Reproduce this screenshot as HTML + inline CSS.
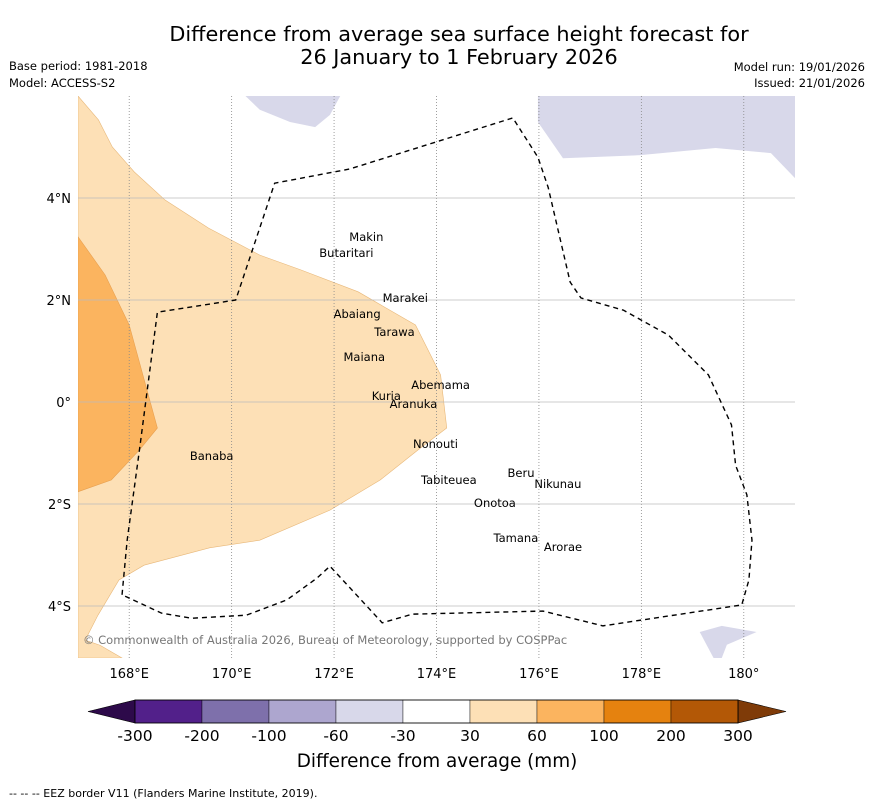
<!DOCTYPE html>
<html><head><meta charset="utf-8"><style>
body{margin:0;background:#fff;font-family:"DejaVu Sans","Liberation Sans",sans-serif;}
svg{display:block}
</style></head><body>
<svg id="chart" width="873" height="804" xmlns="http://www.w3.org/2000/svg" font-family="DejaVu Sans, Liberation Sans, sans-serif">
<text x="459" y="41" font-size="20.8" text-anchor="middle">Difference from average sea surface height forecast for</text>
<text x="459" y="64" font-size="20.8" text-anchor="middle">26 January to 1 February 2026</text>
<text x="9" y="70" font-size="11.5">Base period: 1981-2018</text>
<text x="9" y="87" font-size="11.5">Model: ACCESS-S2</text>
<text x="865" y="71" font-size="11.5" text-anchor="end">Model run: 19/01/2026</text>
<text x="865" y="87" font-size="11.5" text-anchor="end">Issued: 21/01/2026</text>
<g id="map"></g>
<g id="cbar"></g>
<text x="437" y="767" font-size="18.4" text-anchor="middle">Difference from average (mm)</text>
<text x="9" y="797" font-size="11">--  --  -- EEZ border V11 (Flanders Marine Institute, 2019).</text>
</svg>
<script>
const lonTicks=[168,170,172,174,176,178,180];
const lonLabels=["168°E","170°E","172°E","174°E","176°E","178°E","180°"];
const latTicks=[4,2,0,-2,-4];
const latLabels=["4°N","2°N","0°","2°S","4°S"];
const cbarLabels=["-300","-200","-100","-60","-30","30","60","100","200","300"];
const cbarColors=["#52208a","#7e70ab","#ada6cf","#d8d8ea","#ffffff","#fde0b6","#fbb45f","#e5820f","#b35806"];
const islandNames=["Makin","Butaritari","Marakei","Abaiang","Tarawa","Maiana","Abemama","Kuria","Aranuka","Nonouti","Banaba","Beru","Nikunau","Tabiteuea","Onotoa","Tamana","Arorae"];
const islandLon=[172.63,172.24,173.39,172.45,173.18,172.59,174.08,173.02,173.55,173.98,169.61,175.65,176.37,174.24,175.14,175.55,176.47];
const islandLat=[3.24,2.92,2.04,1.73,1.37,0.88,0.33,0.12,-0.04,-0.82,-1.06,-1.39,-1.61,-1.53,-1.98,-2.67,-2.84];
const lightLon=[167,167.4,167.67,168.1,168.7,169.55,170.55,171.35,172.47,173.59,174.08,174.2,173.69,172.9,171.92,170.55,169.57,168.29,167.8,167.39,167.14,167.43,167.86,167];
const lightLat=[6,5.53,5.0,4.51,3.96,3.41,2.88,2.59,2.16,1.51,0.53,-0.51,-0.9,-1.53,-2.12,-2.71,-2.86,-3.2,-3.49,-4.18,-4.67,-4.77,-5.02,-5.02];
const darkLon=[167,167.53,168.0,168.55,168.2,167.65,167];
const darkLat=[3.24,2.49,1.51,-0.51,-0.94,-1.53,-1.76];
const lav1Lon=[170.27,170.55,171.14,171.63,171.92,172.12];
const lav1Lat=[6,5.73,5.49,5.39,5.63,6];
const lav2Lon=[175.98,175.98,176.47,177.98,179.45,180.53,181,181];
const lav2Lat=[6,5.49,4.78,4.84,4.98,4.88,4.39,6];
const lav3Lon=[179.14,179.57,180.25,179.67,179.57,179.41];
const lav3Lat=[-4.51,-4.39,-4.51,-4.76,-5.02,-5.02];
const eezLon=[167.86,167.96,168.2,168.55,170.08,170.84,172.31,175.49,175.98,176.18,176.61,176.82,177.65,178.53,179.31,179.76,179.84,180.06,180.16,180.1,179.96,177.25,176.08,173.53,172.94,171.92,171.67,171.08,170.29,169.22,168.63,167.86];
const eezLat=[-3.78,-2.71,-0.94,1.76,2.0,4.29,4.57,5.57,4.8,4.21,2.35,2.04,1.8,1.31,0.53,-0.45,-1.24,-1.82,-2.71,-3.49,-3.98,-4.39,-4.1,-4.16,-4.33,-3.22,-3.45,-3.88,-4.18,-4.24,-4.14,-3.78];
const NS="http://www.w3.org/2000/svg";
const X0=78,X1=795,Y0=96,Y1=658,LON0=167,LON1=181,LAT0=6,LAT1=-5.02;
const xs=l=>X0+(l-LON0)/(LON1-LON0)*(X1-X0);
const ys=l=>Y0+(LAT0-l)/(LAT0-LAT1)*(Y1-Y0);
function mk(tag,attrs,parent){const e=document.createElementNS(NS,tag);for(const k in attrs)e.setAttribute(k,attrs[k]);parent.appendChild(e);return e;}
const map=document.getElementById('map');
const defs=mk('defs',{},map);
const cp=mk('clipPath',{id:'clip'},defs);
mk('rect',{x:X0,y:Y0,width:X1-X0,height:Y1-Y0},cp);
const g=mk('g',{'clip-path':'url(#clip)'},map);
function poly(lons,lats,fill,name,stroke){const p=mk('polygon',{points:lons.map((l,i)=>xs(l)+','+ys(lats[i])).join(' '),fill:fill,stroke:stroke||'none','stroke-width':0.6},g);

return p;}
poly(lightLon,lightLat,'#fde0b6','anomaly-30-60','#e8b87a');
poly(darkLon,darkLat,'#fbb45f','anomaly-60-100','#e8a050');
poly(lav1Lon,lav1Lat,'#d8d8ea','anomaly-neg30-60-a');
poly(lav2Lon,lav2Lat,'#d8d8ea','anomaly-neg30-60-b');
poly(lav3Lon,lav3Lat,'#d8d8ea','anomaly-neg30-60-c');
lonTicks.forEach((t,i)=>{
const l=mk('line',{x1:xs(t),x2:xs(t),y1:Y0,y2:Y1,stroke:'#888','stroke-width':0.8,'stroke-dasharray':'1,2'},g);


const tx=mk('text',{x:xs(t),y:Y1+20,'font-size':13,'text-anchor':'middle'},map);tx.textContent=lonLabels[i];

});
latTicks.forEach((t,i)=>{
const l=mk('line',{x1:X0,x2:X1,y1:ys(t),y2:ys(t),stroke:'#bbb','stroke-width':0.8},g);


const tx=mk('text',{x:X0-7,y:ys(t)+5,'font-size':13,'text-anchor':'end'},map);tx.textContent=latLabels[i];

});
const eez=mk('polyline',{points:eezLon.map((l,i)=>xs(l)+','+ys(eezLat[i])).join(' '),fill:'none',stroke:'#000','stroke-width':1.4,'stroke-dasharray':'5,4'},g);


islandNames.forEach((n,i)=>{const tx=mk('text',{x:xs(islandLon[i]),y:ys(islandLat[i])+4,'font-size':11.5,'text-anchor':'middle'},g);tx.textContent=n;

});
const cr=mk('text',{x:83,y:644,'font-size':11.5,fill:'#777'},g);cr.textContent='© Commonwealth of Australia 2026, Bureau of Meteorology, supported by COSPPac';


const cb=document.getElementById('cbar');
const B0=135,BW=67,CY=700,CH=23,n=cbarColors.length;
const lt=mk('polygon',{points:`88,${CY+CH/2} ${B0},${CY} ${B0},${CY+CH}`,fill:'#2d0a4a',stroke:'#000','stroke-width':0.6},cb);


const rt=mk('polygon',{points:`786,${CY+CH/2} ${B0+n*BW},${CY} ${B0+n*BW},${CY+CH}`,fill:'#7f3b08',stroke:'#000','stroke-width':0.6},cb);


cbarColors.forEach((c,i)=>{const r=mk('rect',{x:B0+i*BW,y:CY,width:BW,height:CH,fill:c,stroke:'#000','stroke-width':0.4},cb);

});
mk('rect',{x:B0,y:CY,width:n*BW,height:CH,fill:'none',stroke:'#000','stroke-width':0.8},cb);
cbarLabels.forEach((s,i)=>{const tx=mk('text',{x:B0+i*BW,y:741,'font-size':15.5,'text-anchor':'middle'},cb);tx.textContent=s;

});
</script>
</body></html>
